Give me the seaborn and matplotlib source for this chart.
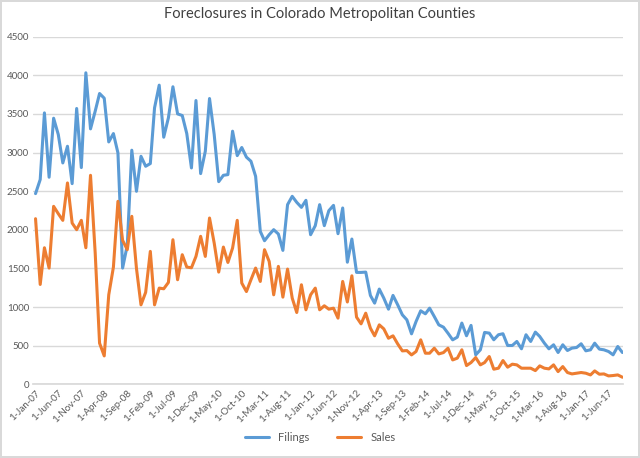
import numpy as np
import pandas as pd
import seaborn as sns
import matplotlib.pyplot as plt

# monthly counts, Jan 2007 - Sep 2017
filings = [2468, 2650, 3513, 2680, 3444, 3233, 2865, 3081, 2597, 3570,
           2805, 4032, 3306, 3535, 3764, 3703, 3137, 3245, 2995, 1504,
           1800, 3030, 2498, 2951, 2822, 2857, 3578, 3872, 3198, 3449,
           3851, 3500, 3479, 3245, 2800, 3673, 2727, 3016, 3699, 3233,
           2623, 2705, 2714, 3276, 2960, 3065, 2940, 2887, 2692, 1979,
           1858, 1936, 2001, 1945, 1733, 2325, 2433, 2355, 2290, 2381,
           1936, 2053, 2325, 2053, 2247, 2316, 1949, 2282, 1580, 1880,
           1448, 1448, 1452, 1150, 1050, 1232, 1115, 972, 1150, 1029,
           899, 834, 653, 812, 951, 912, 985, 877, 769, 739,
           661, 575, 610, 792, 628, 762, 381, 446, 671, 662,
           576, 641, 654, 502, 502, 554, 459, 641, 554, 675,
           619, 532, 459, 511, 411, 511, 437, 468, 476, 524,
           433, 446, 532, 455, 446, 424, 381, 489, 411]
sales = [2143, 1292, 1767, 1504, 2303, 2208, 2122, 2606, 2087, 2001,
         2122, 1767, 2705, 1700, 532, 367, 1158, 1517, 2368, 1863,
         1742, 2174, 1500, 1028, 1190, 1720, 1028, 1245, 1236, 1318,
         1871, 1353, 1677, 1517, 1508, 1655, 1915, 1655, 2152, 1828,
         1452, 1776, 1577, 1763, 2122, 1310, 1200, 1353, 1504, 1331,
         1742, 1590, 1158, 1526, 1128, 1491, 1115, 929, 1288, 964,
         1158, 1245, 964, 1016, 972, 985, 856, 1331, 1065, 1404,
         869, 782, 920, 726, 627, 769, 717, 596, 627, 523,
         432, 436, 380, 424, 575, 402, 402, 467, 393, 410,
         467, 315, 338, 446, 242, 281, 346, 251, 281, 359,
         195, 208, 307, 221, 260, 251, 208, 208, 208, 177,
         238, 208, 199, 251, 164, 229, 152, 134, 143, 152,
         143, 121, 173, 130, 134, 108, 113, 121, 91]
months = pd.date_range('2007-01-01', periods=len(filings), freq='MS')
tick_months = months[::5]
y_ticks = list(range(0, 5000, 500))

df = pd.DataFrame({'month': months, 'Filings': filings, 'Sales': sales})
long_df = df.melt(id_vars='month', var_name='series', value_name='count')

sns.set_theme(style='white')
plt.rcParams['font.family'] = ['Lato', 'DejaVu Sans']

fig = plt.figure(figsize=(6.4, 4.58), dpi=100)
fig.patch.set_edgecolor('#d9d9d9')
fig.patch.set_linewidth(1.5)
ax = fig.add_axes([0.052, 0.161, 0.921, 0.759])

sns.lineplot(data=long_df, x='month', y='count', hue='series',
             palette={'Filings': '#5B9BD5', 'Sales': '#ED7D31'},
             linewidth=2.2, ax=ax)

ax.set_ylim(0, 4500)
ax.set_yticks(y_ticks)
ax.set_xlim(months[0] - pd.Timedelta(days=15), months[-1] + pd.Timedelta(days=2))
ax.set_xticks(tick_months)
ax.set_xticklabels([f'1-{d:%b-%y}' for d in tick_months], rotation=45,
                   ha='right', rotation_mode='anchor')
ax.tick_params(axis='both', labelsize=7, colors='#595959', length=0, pad=3)
ax.yaxis.grid(True, color='#d9d9d9', linewidth=1)
ax.xaxis.grid(False)
for s in ['top', 'right', 'left']:
    ax.spines[s].set_visible(False)
ax.spines['bottom'].set_color('#d9d9d9')
ax.set_xlabel('')
ax.set_ylabel('')

fig.suptitle('Foreclosures in Colorado Metropolitan Counties', y=0.985,
             fontsize=10.5, color='#404040')
ax.legend_.remove()
handles, labels = ax.get_legend_handles_labels()
fig.legend(handles, labels, loc='center', bbox_to_anchor=(0.5, 0.045),
           ncol=2, frameon=False, fontsize=8, handlelength=2.2,
           columnspacing=2.5, labelcolor='#595959')

fig.savefig('out.png', dpi=100, edgecolor=fig.get_edgecolor())
